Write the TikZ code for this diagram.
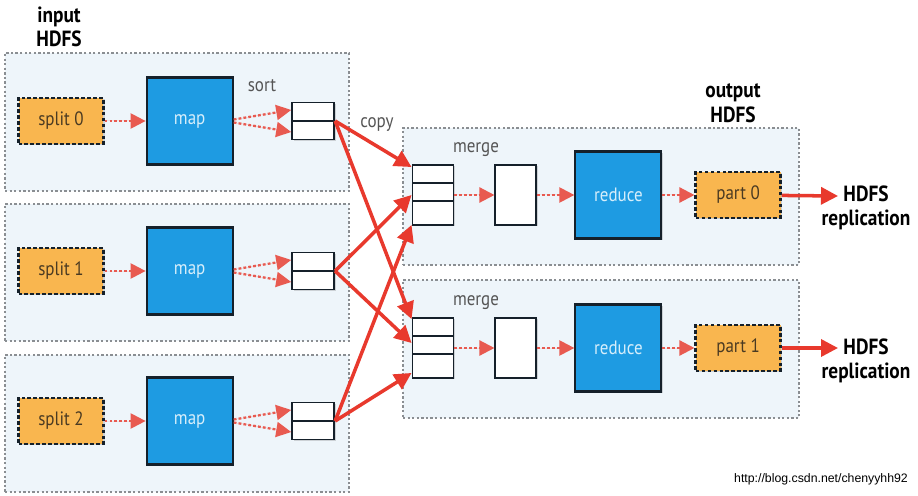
\documentclass[tikz,border=0pt]{standalone}
\usepackage{fontspec}
\setmainfont[FakeStretch=0.88]{PT Sans}
\newfontfamily\urlfont{Liberation Sans}
\usetikzlibrary{arrows.meta,positioning,shadows,calc}

\definecolor{panelblue}{HTML}{EEF5FA}
\definecolor{panelgray}{HTML}{8A8E92}
\definecolor{mapblue}{HTML}{1E9BE2}
\definecolor{maptext}{HTML}{D6EEFB}
\definecolor{boxline}{HTML}{15202A}
\definecolor{splitorange}{HTML}{F9B64F}
\definecolor{splittext}{HTML}{4A3A22}
\definecolor{copyred}{HTML}{E8392D}
\definecolor{dotred}{HTML}{E85A50}
\definecolor{labelgray}{HTML}{555555}

\begin{document}
\begin{tikzpicture}[
    x=0.02cm, y=-0.02cm,
    font=\fontsize{11}{13}\selectfont,
    >={Triangle[length=0.34cm,width=0.34cm]},
    boxshadow/.style={
		drop shadow={shadow xshift=0.8pt, shadow yshift=-0.8pt, opacity=0.3}
	},
    panel/.style={
		rectangle,
		draw=panelgray,
		dash pattern=on 1.3pt off 1.3pt,
		line width=0.9pt,
		fill=panelblue
	},
    split/.style={
		rectangle,
		boxshadow,
		draw=boxline,
		dash pattern=on 2.2pt off 1.2pt,
		line width=1.3pt,
		fill=splitorange,
		text=splittext,
		inner sep=0pt,
		minimum width=1.7cm,
		minimum height=0.92cm
	},
    task/.style={
		rectangle,
		boxshadow,
		draw=boxline,
		line width=1.2pt,
		fill=mapblue,
		text=maptext,
		inner sep=0pt,
		minimum width=1.72cm,
		minimum height=1.74cm
	},
    sortbuf/.style={
		rectangle,
		boxshadow,
		draw=boxline,
		line width=1.1pt,
		fill=white,
		inner sep=0pt,
		minimum width=0.84cm,
		minimum height=0.74cm,
		path picture={
		  \draw [line width=1.1pt, boxline] (path picture bounding box.west) -- (path picture bounding box.east);
		}
	},
    mergebuf/.style={
		rectangle,
		boxshadow,
		draw=boxline,
		line width=1.1pt,
		fill=white,
		inner sep=0pt,
		minimum width=0.82cm,
		minimum height=1.2cm,
		path picture={
		  \draw [line width=1.1pt, boxline]
		    ($(path picture bounding box.north west)!0.3!(path picture bounding box.south west)$) --
		    ($(path picture bounding box.north east)!0.3!(path picture bounding box.south east)$)
		    ($(path picture bounding box.north west)!0.6!(path picture bounding box.south west)$) --
		    ($(path picture bounding box.north east)!0.6!(path picture bounding box.south east)$);
		}
	},
    merged/.style={
		rectangle,
		boxshadow,
		draw=boxline,
		line width=1.1pt,
		fill=white,
		inner sep=0pt,
		minimum width=0.82cm,
		minimum height=1.2cm
	},
    caption/.style={
		font=\fontsize{12.5}{14}\selectfont\bfseries,
		align=center,
		text=black
	},
    tag/.style={
		text=labelgray
	},
    dotarrow/.style={
		->,
		draw=dotred,
		fill=dotred,
		line width=1.3pt,
		dash pattern=on 1.6pt off 1.2pt,
		>={Triangle[length=0.3cm,width=0.3cm,sep=0pt]}
	},
    copyarrow/.style={
		->,
		draw=copyred,
		fill=copyred,
		line width=2pt
	}
  ]

\useasboundingbox (0,0) rectangle (918,496);

% // input HDFS
\node [caption] (input) at (59,27) {input\\HDFS};
\node [panel, minimum width=6.88cm, minimum height=2.76cm] (in0) at (177,122) {};
\node [panel, minimum width=6.88cm, minimum height=2.74cm] (in1) at (177,272.5) {};
\node [panel, minimum width=6.88cm, minimum height=2.74cm] (in2) at (177,423.5) {};

% // output HDFS
\node [caption] (output) at (733,103) {output\\HDFS};
\node [panel, minimum width=7.92cm, minimum height=2.74cm] (out0) at (601,196.5) {};
\node [panel, minimum width=7.92cm, minimum height=2.76cm] (out1) at (601,349) {};

% // map side
\node [split] (split0) at (61,121) {split 0};
\node [task, right=0.82cm of split0] (map0) {map};
\node [sortbuf, right=1.15cm of map0] (sbuf0) {};

\node [split] (split1) at (61,271) {split 1};
\node [task, right=0.82cm of split1] (map1) {map};
\node [sortbuf, right=1.15cm of map1] (sbuf1) {};

\node [split] (split2) at (61,421) {split 2};
\node [task, right=0.82cm of split2] (map2) {map};
\node [sortbuf, right=1.15cm of map2] (sbuf2) {};

\node [tag] (sort) at (262,86) {sort};
\node [tag] (copy) at (377,125) {copy};

\draw [dotarrow] (split0) -- (map0);
\draw [dotarrow] ([yshift=0.03cm]map0.east) -- ([yshift=0.22cm]sbuf0.west);
\draw [dotarrow] ([yshift=-0.03cm]map0.east) -- ([yshift=-0.22cm]sbuf0.west);

\draw [dotarrow] (split1) -- (map1);
\draw [dotarrow] ([yshift=0.03cm]map1.east) -- ([yshift=0.22cm]sbuf1.west);
\draw [dotarrow] ([yshift=-0.03cm]map1.east) -- ([yshift=-0.22cm]sbuf1.west);

\draw [dotarrow] (split2) -- (map2);
\draw [dotarrow] ([yshift=0.03cm]map2.east) -- ([yshift=0.22cm]sbuf2.west);
\draw [dotarrow] ([yshift=-0.03cm]map2.east) -- ([yshift=-0.22cm]sbuf2.west);

% // reduce side
\node [mergebuf] (mbuf0) at (433,195) {};
\node [merged, right=0.8cm of mbuf0] (mrg0) {};
\node [task, right=0.74cm of mrg0] (red0) {reduce};
\node [split, right=0.64cm of red0] (part0) {part 0};
\node [tag] (merge0) at (476,150) {merge};

\node [mergebuf] (mbuf1) at (433,348) {};
\node [merged, right=0.8cm of mbuf1] (mrg1) {};
\node [task, right=0.74cm of mrg1] (red1) {reduce};
\node [split, right=0.64cm of red1] (part1) {part 1};
\node [tag] (merge1) at (476,303) {merge};

\draw [dotarrow] (mbuf0) -- (mrg0);
\draw [dotarrow] (mrg0) -- (red0);
\draw [dotarrow] (red0) -- (part0);

\draw [dotarrow] (mbuf1) -- (mrg1);
\draw [dotarrow] (mrg1) -- (red1);
\draw [dotarrow] (red1) -- (part1);

% // copy
\draw [copyarrow] (sbuf0.east) -- ([yshift=-0.06cm]mbuf0.north west);
\draw [copyarrow] (sbuf0.east) -- ([yshift=-0.04cm]mbuf1.north west);
\draw [copyarrow] (sbuf1.east) -- (mbuf0.west);
\draw [copyarrow] (sbuf1.east) -- ([yshift=0.1cm]mbuf1.west);
\draw [copyarrow] (sbuf2.east) -- ([yshift=0.02cm]mbuf0.south west);
\draw [copyarrow] (sbuf2.east) -- ([yshift=0.12cm]mbuf1.south west);

% // replication
\node [caption] (hdfs0) at (866,208) {HDFS\\replication};
\node [caption] (hdfs1) at (866,361) {HDFS\\replication};
\coordinate (rep0) at (838,196);
\coordinate (rep1) at (838,348);
\draw [copyarrow] (part0) -- (rep0);
\draw [copyarrow] (part1) -- (rep1);

\node [font=\urlfont\fontsize{7}{8}\selectfont] (url) at (821,479) {http://blog.csdn.net/chenyyhh92};

\end{tikzpicture}
\end{document}
